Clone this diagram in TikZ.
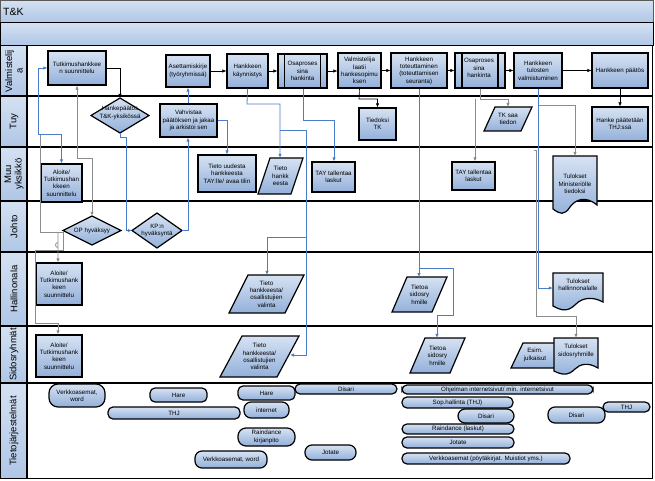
\documentclass[tikz,border=0pt]{standalone}
\usepackage{fontspec}
\setmainfont{Liberation Sans}
\usetikzlibrary{arrows.meta,fit,calc}
\definecolor{bt}{HTML}{D6E2F2}
\definecolor{bb}{HTML}{93B0DA}
\definecolor{lt}{HTML}{D4E1F2}
\definecolor{lb}{HTML}{AFC6E6}
\definecolor{bl}{HTML}{4A7CC9}
\definecolor{gr}{HTML}{8C8C8C}
\newcommand\bxf{\fontsize{6.2}{7.4}\selectfont}
\newcommand\lnf{\fontsize{9.5}{10.5}\selectfont}
\begin{document}
\begin{tikzpicture}[x=1pt,y=-1pt,
  box/.style={draw=black, line width=1.2pt, top color=bt, bottom color=bb, inner sep=0pt},
  shp/.style={draw=black, line width=1.2pt, top color=bt, bottom color=bb},
  lbl/.style={inner sep=0pt, align=center, font=\bxf},
  term/.style={box, rounded corners=5pt},
  lanel/.style={draw=black, line width=1.2pt, top color=lt, bottom color=lb},
  lanet/.style={rotate=90, align=center, font=\lnf, inner sep=0pt},
  lanesep/.style={line width=1.3pt, draw=black},
  ak/.style={draw=black, line width=0.6pt, -{Latex[length=4pt,width=3.5pt]}},
  ab/.style={draw=bl, line width=0.8pt, -{Latex[length=4pt,width=3.5pt]}},
  ag/.style={draw=gr, line width=0.8pt, -{Latex[length=4pt,width=3.5pt,fill=black]}},
]
\useasboundingbox (0,0) rectangle (655,481);
\fill[white] (0,0) rectangle (655,481);
% title bars
\path[draw=gray!70!black, line width=0.8pt, top color=lt, bottom color=lb] (0.5,0.5) rectangle (653.5,22.5);
\path[draw=black, line width=0.8pt, top color=lt, bottom color=lb] (0.5,22.5) rectangle (653.5,45.5);
\node[anchor=west, font=\fontsize{10.5}{12}\selectfont, inner sep=0pt] (title) at (3,11.5) {T\&K};
% lanes
\draw[line width=1.3pt] (0.7,45.5) rectangle (652.5,478.5);
\foreach \y in {96,147,201,252,326,383} {\draw[lanesep] (0.7,\y) -- (652.5,\y);}
\path[lanel] (0.7,45.5) rectangle (27,96);
\path[lanel] (0.7,96) rectangle (27,147);
\path[lanel] (0.7,147) rectangle (27,201);
\path[lanel] (0.7,201) rectangle (27,252);
\path[lanel] (0.7,252) rectangle (27,326);
\path[lanel] (0.7,326) rectangle (27,383);
\path[lanel] (0.7,383) rectangle (27,478.5);
\node[lanet] (l1) at (14,71) {Valmistelij\\a};
\node[lanet] (l2) at (14,121.5) {Tuy};
\node[lanet] (l3) at (14,174) {Muu\\yksikkö};
\node[lanet] (l4) at (14,226.5) {Johto};
\node[lanet] (l5) at (14,289) {Hallinonala};
\node[lanet] (l6) at (14,354.5) {Sidosryhmät};
\node[lanet] (l7) at (14,431) {Tietojärjestelmät};

% ---- Valmistelija
\node[box, fit={(48,51)(106,85)}] (tut) {};
\node[lbl] (tut-t) at (tut) {Tutkimushankkee\\n suunnittelu};
\node[box, fit={(166,55)(210,87)}] (ase) {};
\node[lbl] (ase-t) at (ase) {Asettamiskirje\\(työryhmissä)};
\node[box, fit={(227,54)(268,88)}] (kay) {};
\node[lbl] (kay-t) at (kay) {Hankkeen\\käynnistys};
\node[box, fit={(278,54)(327,88)}] (osa1) {};
\draw[line width=1.2pt] (284.5,54) -- (284.5,88) (320.5,54) -- (320.5,88);
\node[lbl] (osa1-t) at (osa1) {Osaproses\\sina\\hankinta};
\node[box, fit={(338,53)(381,88)}] (val) {};
\node[lbl] (val-t) at (val) {Valmistelija\\laatii\\hankesopimu\\ksen};
\node[box, fit={(391,53)(447,88)}] (tot) {};
\node[lbl] (tot-t) at (tot) {Hankkeen\\toteuttaminen\\(toteuttamisen\\seuranta)};
\node[box, fit={(455,53)(505,88)}] (osa2) {};
\draw[line width=1.2pt] (462,53) -- (462,88) (498,53) -- (498,88);
\node[lbl] (osa2-t) at (479,68) {Osaproses\\sina\\hankinta};
\node[box, fit={(514,53)(562,88)}] (tul) {};
\node[lbl] (tul-t) at (tul) {Hankkeen\\tulosten\\valmistuminen};
\node[box, fit={(592,53)(648,88)}] (pat) {};
\node[lbl] (pat-t) at (pat) {Hankkeen päätös};

% ---- Tuy
\path[shp] (91,115.5) -- (120,98) -- (149,115.5) -- (120,133) -- cycle;
\node[inner sep=0pt, fit={(91,98)(149,133)}] (hp) {};
\node[lbl] (hp-t) at (120,113) {Hankepäätös\\T\&K-yksikössä};
\node[box, fit={(160,104)(217,137)}] (vah) {};
\node[lbl] (vah-t) at (vah) {Vahvistaa\\päätöksen ja jakaa\\ja arkistoi sen};
\node[box, fit={(359,108)(396,140)}] (tdk) {};
\node[lbl] (tdk-t) at (tdk) {Tiedoksi\\TK};
\path[shp] (495,107) -- (532,107) -- (521,131) -- (484,131) -- cycle;
\node[inner sep=0pt, fit={(484,107)(532,131)}] (tks) {};
\node[lbl] (tks-t) at (tks) {TK saa\\tiedon};
\node[box, fit={(592,107)(648,141)}] (thj) {};
\node[lbl] (thj-t) at (thj) {Hanke päätetään\\THJ:ssä};

% ---- Muu yksikko
\node[box, fit={(41,164)(82,202)}] (alo1) {};
\node[lbl] (alo1-t) at (alo1) {Aloite/\\Tutkimushan\\kkeen\\suunnittelu};
\node[box, fit={(198,155)(256,192)}] (tuu) {};
\node[lbl] (tuu-t) at (tuu) {Tieto uudesta\\hankkeesta\\TAY:lle/ avaa tilin};
\path[shp] (270,158) -- (303,158) -- (291,194) -- (258,194) -- cycle;
\node[inner sep=0pt, fit={(258,158)(303,194)}] (thk) {};
\node[lbl] (thk-t) at (thk) {Tieto\\hankk\\eesta};
\node[box, fit={(312,162)(355,192)}] (tay1) {};
\node[lbl] (tay1-t) at (tay1) {TAY tallentaa\\laskut};
\node[box, fit={(452,162)(495,190)}] (tay2) {};
\node[lbl] (tay2-t) at (tay2) {TAY tallentaa\\laskut};
\path[shp] (553,156) -- (597,156) -- (597,205) .. controls (585,195) and (575,200) .. (570,207) .. controls (564,216) and (560,214) .. (553,209) -- cycle;
\node[inner sep=0pt, fit={(553,156)(597,208)}] (tmi) {};
\node[lbl] (tmi-t) at (575,184) {Tulokset\\Ministeriölle\\tiedoksi};

% ---- Johto
\path[shp] (63,230.5) -- (92,216) -- (121,230.5) -- (92,245) -- cycle;
\node[inner sep=0pt, fit={(63,216)(121,245)}] (op) {};
\node[lbl] (op-t) at (op) {OP hyväksyy};
\path[shp] (132,230.5) -- (157,213) -- (182,230.5) -- (157,248) -- cycle;
\node[inner sep=0pt, fit={(132,213)(182,248)}] (kp) {};
\node[lbl] (kp-t) at (kp) {KP:n\\hyväksyntä};

% ---- Hallinonala
\node[box, fit={(36,263)(82,305)}] (alo2) {};
\node[lbl] (alo2-t) at (alo2) {Aloite/\\Tutkimushank\\keen\\suunnittelu};
\path[shp] (248,275) -- (304,275) -- (285,313) -- (229,313) -- cycle;
\node[inner sep=0pt, fit={(229,275)(304,313)}] (th1) {};
\node[lbl] (th1-t) at (th1) {Tieto\\hankkeesta/\\osallistujien\\valinta};
\path[shp] (407,277) -- (447,277) -- (432,312) -- (392,312) -- cycle;
\node[inner sep=0pt, fit={(392,277)(447,312)}] (ts1) {};
\node[lbl] (ts1-t) at (ts1) {Tietoa\\sidosry\\hmille};
\path[shp] (553,273) -- (603,273) -- (603,302) .. controls (592,296) and (582,298) .. (576,304) .. controls (568,312) and (562,311) .. (553,306) -- cycle;
\node[inner sep=0pt, fit={(553,273)(603,302)}] (tha) {};
\node[lbl] (tha-t) at (578,285) {Tulokset\\hallinnonalalle};

% ---- Sidosryhmat
\node[box, fit={(36,335)(82,377)}] (alo3) {};
\node[lbl] (alo3-t) at (alo3) {Aloite/\\Tutkimushank\\keen\\suunnittelu};
\path[shp] (242,336) -- (299,336) -- (277,377) -- (220,377) -- cycle;
\node[inner sep=0pt, fit={(220,336)(299,377)}] (th2) {};
\node[lbl] (th2-t) at (th2) {Tieto\\hankkeesta/\\osallistujien\\valinta};
\path[shp] (425,338) -- (465,338) -- (450,373) -- (410,373) -- cycle;
\node[inner sep=0pt, fit={(410,338)(465,373)}] (ts2) {};
\node[lbl] (ts2-t) at (ts2) {Tietoa\\sidosry\\hmille};
\path[shp] (523,343) -- (556,343) -- (556,368) -- (511,368) -- cycle;
\node[inner sep=0pt, fit={(515,343)(553,368)}] (esi) {};
\node[lbl] (esi-t) at (535,355) {Esim.\\julkaisut};
\path[shp] (554,338) -- (598,338) -- (598,368) .. controls (588,362) and (580,364) .. (575,369) .. controls (568,376) and (562,375) .. (554,371) -- cycle;
\node[inner sep=0pt, fit={(554,338)(598,368)}] (tsi) {};
\node[lbl] (tsi-t) at (576,351) {Tulokset\\sidosryhmille};

% ---- Tietojarjestelmat
\node[term, rounded corners=9pt, fit={(49,384)(105,407)}] (v1) {};
\node[lbl] (v1-t) at (v1) {Verkkoasemat,\\word};
\node[term, fit={(150,388)(207,402)}] (h1) {};
\node[lbl] (h1-t) at (h1) {Hare};
\node[term, fit={(108,407)(240,419)}] (thj1) {};
\node[lbl] (thj1-t) at (thj1) {THJ};
\node[term, fit={(295,384)(397,394)}] (di1) {};
\node[lbl] (di1-t) at (di1) {Disari};
\node[term, fit={(238,386)(295,400)}] (h2) {};
\node[lbl] (h2-t) at (h2) {Hare};
\node[term, rounded corners=7pt, fit={(244,402)(289,418)}] (int) {};
\node[lbl] (int-t) at (int) {internet};
\node[term, rounded corners=8pt, fit={(238,428)(295,446)}] (rai) {};
\node[lbl] (rai-t) at (rai) {Raindance\\kirjanpito};
\node[term, rounded corners=7pt, fit={(195,451)(267,468)}] (v2) {};
\node[lbl] (v2-t) at (v2) {Verkkoasemat, word};
\node[term, rounded corners=7pt, fit={(305,445)(356,460)}] (jo1) {};
\node[lbl] (jo1-t) at (jo1) {Jotate};
\node[term, fit={(402,385)(593,394)}] (ohj) {};
\node[lbl] (ohj-t) at (ohj) {Ohjelman internetsivut/ min. internetsivut};
\node[term, fit={(402,397)(513,408)}] (sop) {};
\node[lbl] (sop-t) at (sop) {Sop.hallinta (THJ)};
\node[term, rounded corners=7pt, fit={(458,409)(514,423)}] (di2) {};
\node[lbl] (di2-t) at (di2) {Disari};
\node[term, rounded corners=7pt, fit={(548,407)(605,423)}] (di3) {};
\node[lbl] (di3-t) at (di3) {Disari};
\node[term, fit={(603,402)(650,412)}] (thj2) {};
\node[lbl] (thj2-t) at (thj2) {THJ};
\node[term, fit={(402,424)(514,434)}] (rai2) {};
\node[lbl] (rai2-t) at (rai2) {Raindance (laskut)};
\node[term, fit={(402,437)(514,448)}] (jo2) {};
\node[lbl] (jo2-t) at (jo2) {Jotate};
\node[term, fit={(402,453)(570,464)}] (ver) {};
\node[lbl] (ver-t) at (ver) {Verkkoasemat (pöytäkirjat. Muistiot yms.)};

% ---- connectors black row
\draw[ak] (ase.east) -- (ase.east -| kay.west);
\draw[ak] (kay.east) -- (kay.east -| osa1.west);
\draw[ak] (osa1.east) -- (osa1.east -| val.west);
\draw[ak] (val.east) -- (val.east -| tot.west);
\draw[ak] (tot.east) -- (tot.east -| osa2.west);
\draw[ak] (osa2.east) -- (osa2.east -| tul.west);
\draw[ak] (tul.east) -- (tul.east -| pat.west);
\draw[ak] (tut.east |- 0,68) -- (120,68) -- (hp.north);
\draw[ak] (pat.south) -- (thj.north);
\draw[ak] (val.south) -- (359,99) -| (tdk.north);
% gray
\draw[ag] (osa2.south) -- (480,99) -| (tks.north);
\draw[ag] (475,99) -- (tay2.north -| 475,0);
\draw[ag] (538,105) -| (tmi.north);
\coordinate (gs) at (536,150);
\draw[ag] (534,150) -- (gs) -- (536,316) -| (tsi.north);
\draw[ag] (77,158) -- (tut.south);
\draw[ag] (77,158) -| (op.north);
\draw[gr, line width=0.8pt] (40,135) -- (40,232) -- (63,232) -- (63,250) -- (35,250) -- (35,323);
\draw[ag] (35,323) -- (58,323) -- (alo3.north -| 58,0);
\draw[ag] (58,232) -- (58,247.5) arc[start angle=90, end angle=-90, radius=-2.5pt] -- (alo2.north -| 58,0);
% blue
\draw[ab] (38,134) -- (38,68) -- (tut.west |- 0,68);
\draw[ab] (38,134) -| (alo1.north);
\draw[ab] (hp.south) -- (120,137) -- (126,137) -- (126,230.5) -- (kp.west);
\draw[ab] (kp.east) -- (188,230.5) -- (vah.south -| 188,0);
\draw[ab] (vah.north -| 188,0) -- (ase.south -| 188,0);
\draw[ab] (vah.east |- 0,120) -- (227,120) -- (tuu.north -| 227,0);
\draw[ab] (kay.south) -- (247,104) -- (280,104) -- (thk.north -| 280,0);
\draw[bl, line width=0.8pt] (280,130) -- (306,130) -- (306,237);
\draw[ab] (306,237) -- (306,355) -- (290,355);
\draw[ab] (306,237) -- (267,237) -- (th1.north -| 267,0);
\draw[ab] (osa1.south -| 303,0) -- (303,120) -- (334,120) -- (tay1.north -| 334,0);
\draw[ab] (tot.south -| 419,0) -- (419,277);
\draw[ab] (419,268) -- (453,268) -- (453,315) -- (437,315) -- (ts2.north -| 437,0);
\draw[ab] (tul.south -| 538,0) -- (538,288) -- (tha.west |- 0,288);
\end{tikzpicture}
\end{document}
